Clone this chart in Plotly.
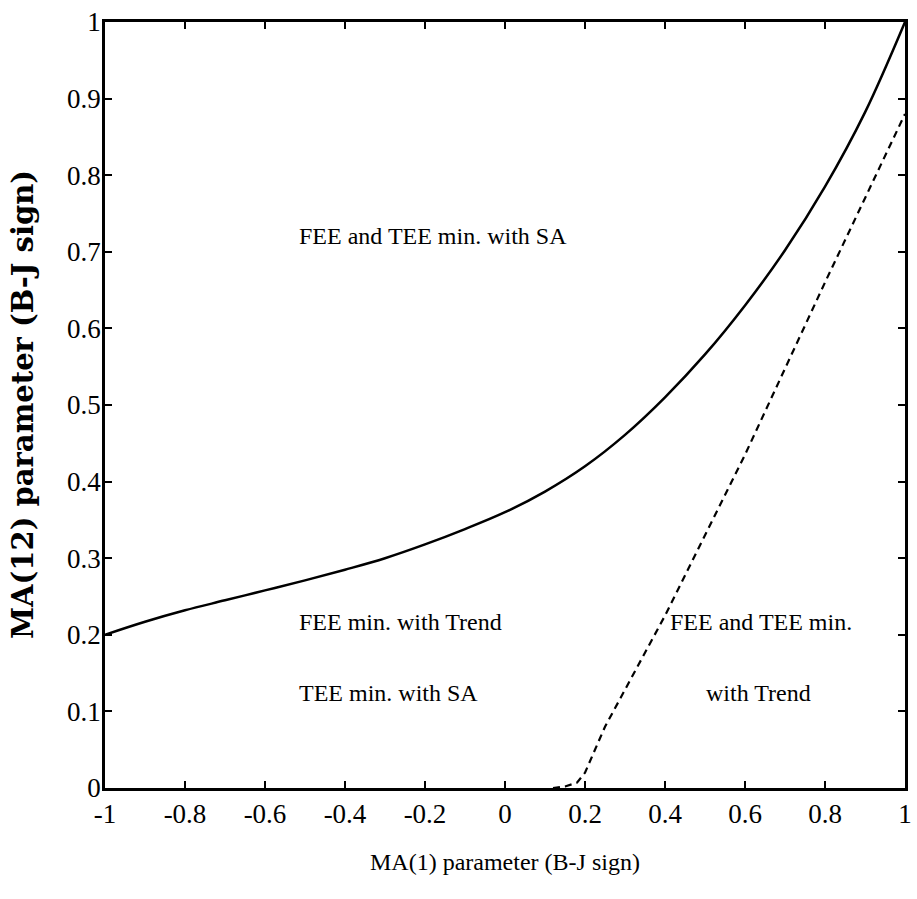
import plotly.graph_objects as go

# Solid boundary curve (MA(1) vs MA(12))
solid_x = [-1.0, -0.9, -0.8, -0.7, -0.6, -0.5, -0.4, -0.3, -0.2, -0.1, 0.0, 0.1, 0.2, 0.3, 0.4, 0.5, 0.6, 0.7, 0.8, 0.9, 1.0]
solid_y = [0.200, 0.217, 0.232, 0.245, 0.258, 0.271, 0.285, 0.300, 0.318, 0.338, 0.360, 0.387, 0.420, 0.461, 0.510, 0.566, 0.630, 0.702, 0.785, 0.882, 1.000]

# Dashed boundary curve
dash_x = [0.12, 0.15, 0.18, 0.20, 0.25, 0.40, 0.60, 0.80, 0.90, 1.00]
dash_y = [0.000, 0.002, 0.007, 0.020, 0.080, 0.225, 0.435, 0.660, 0.770, 0.880]

tick_vals_x = [-1, -0.8, -0.6, -0.4, -0.2, 0, 0.2, 0.4, 0.6, 0.8, 1]
tick_text_x = ["-1", "-0.8", "-0.6", "-0.4", "-0.2", "0", "0.2", "0.4", "0.6", "0.8", "1"]
tick_vals_y = [0, 0.1, 0.2, 0.3, 0.4, 0.5, 0.6, 0.7, 0.8, 0.9, 1]
tick_text_y = ["0", "0.1", "0.2", "0.3", "0.4", "0.5", "0.6", "0.7", "0.8", "0.9", "1"]

labels = [
    ("FEE and TEE min. with SA", -0.52, 0.72, "left"),
    ("FEE min. with Trend", -0.52, 0.217, "left"),
    ("TEE min. with SA", -0.52, 0.124, "left"),
    ("FEE and TEE min.", 0.639, 0.217, "center"),
    ("with Trend", 0.633, 0.124, "center"),
]

SERIF = "Liberation Serif, Times New Roman, serif"

fig = go.Figure()
fig.add_trace(go.Scatter(x=solid_x, y=solid_y, mode="lines", line=dict(color="black", width=2.5, shape="spline"), showlegend=False, hoverinfo="skip"))
fig.add_trace(go.Scatter(x=dash_x, y=dash_y, mode="lines", line=dict(color="black", width=2.2, dash="7px,5px"), showlegend=False, hoverinfo="skip"))

for txt, x, y, anc in labels:
    fig.add_annotation(x=x, y=y, text=txt, showarrow=False, xanchor=anc, yanchor="middle",
                       font=dict(family=SERIF, size=24, color="black"))

# axis titles
fig.add_annotation(xref="paper", yref="paper", x=0.5, y=0, yshift=-74, text="MA(1) parameter (B-J sign)",
                   showarrow=False, xanchor="center", yanchor="middle", font=dict(family=SERIF, size=24, color="black"))
fig.add_annotation(xref="paper", yref="paper", x=0, y=0.5, xshift=-82, text="MA(12) parameter (B-J sign)",
                   showarrow=False, textangle=-90, xanchor="center", yanchor="middle",
                   font=dict(family="DejaVu Serif", size=29, color="black", weight="bold"))

fig.update_layout(
    width=917, height=899,
    margin=dict(l=105, r=5, t=22, b=111),
    plot_bgcolor="white", paper_bgcolor="white",
    font=dict(family=SERIF, size=27, color="black"),
)
fig.update_xaxes(range=[-1, 1], tickvals=tick_vals_x, ticktext=tick_text_x, ticks="inside", ticklen=7, tickwidth=1.5,
                 tickcolor="black", showline=True, linecolor="black", linewidth=2.5, mirror="ticks",
                 showgrid=False, zeroline=False, tickfont=dict(family=SERIF, size=27, color="black"))
fig.update_yaxes(range=[0, 1], tickvals=tick_vals_y, ticktext=tick_text_y, ticks="inside", ticklen=7, tickwidth=1.5,
                 tickcolor="black", showline=True, linecolor="black", linewidth=2.5, mirror="ticks",
                 showgrid=False, zeroline=False, ticklabelstandoff=-4, tickfont=dict(family=SERIF, size=27, color="black"))

fig.write_html("out.html")
